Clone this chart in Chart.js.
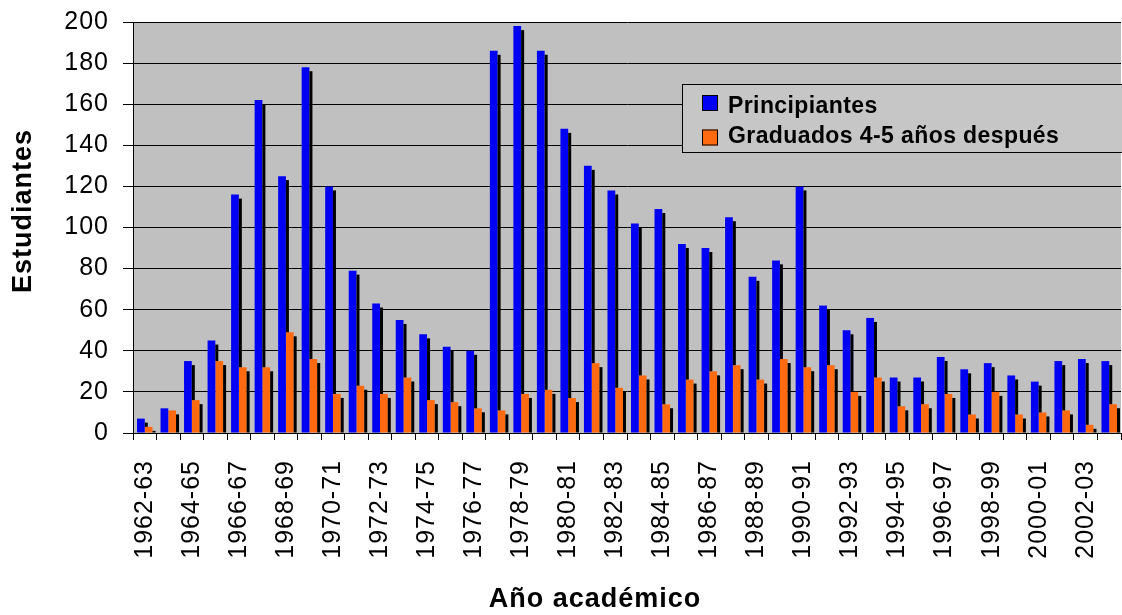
<!DOCTYPE html>
<html lang="es">
<head>
<meta charset="utf-8">
<title>Principiantes y graduados por año académico</title>
<script src="https://cdn.jsdelivr.net/npm/chart.js@4.4.1/dist/chart.umd.min.js"></script>
<style>
  html, body { margin: 0; padding: 0; background: #ffffff; }
  canvas { display: block; }
</style>
</head>
<body>
<canvas id="grafico" width="1122" height="615"></canvas>
<script>
// Años académicos (eje X)
const cursos = [
  '1962-63', '1963-64', '1964-65', '1965-66', '1966-67', '1967-68', '1968-69',
  '1969-70', '1970-71', '1971-72', '1972-73', '1973-74', '1974-75', '1975-76',
  '1976-77', '1977-78', '1978-79', '1979-80', '1980-81', '1981-82', '1982-83',
  '1983-84', '1984-85', '1985-86', '1986-87', '1987-88', '1988-89', '1989-90',
  '1990-91', '1991-92', '1992-93', '1993-94', '1994-95', '1995-96', '1996-97',
  '1997-98', '1998-99', '1999-00', '2000-01', '2001-02', '2002-03', '2003-04'
];

// Alumnos que empiezan la carrera cada año
const principiantes = [
  7, 12, 35, 45, 116, 162, 125, 178, 120, 79, 63, 55, 48, 42,
  40, 186, 198, 186, 148, 130, 118, 102, 109, 92, 90, 105, 76, 84,
  120, 62, 50, 56, 27, 27, 37, 31, 34, 28, 25, 35, 36, 35
];

// Alumnos de esa promoción que terminan 4-5 años después
const graduados = [
  3, 11, 16, 35, 32, 32, 49, 36, 19, 23, 19, 27, 16, 15,
  12, 11, 19, 21, 17, 34, 22, 28, 14, 26, 30, 33, 26, 36,
  32, 33, 20, 27, 13, 14, 19, 9, 20, 9, 10, 11, 4, 14
];

const seriesNombres = ['Principiantes', 'Graduados 4-5 años después'];
const seriesColores = ['#0000f2', '#ff6a10'];

// Eje Y: 0 a 200 de 20 en 20
const yMin = 0;
const yMax = 200;
const yPaso = 20;

const tituloX = 'Año académico';
const tituloY = 'Estudiantes';

const FUENTE = "'Liberation Sans', Arial, Helvetica, sans-serif";
const ESPACIADO = '1px';
const FONDO_PLOT = '#c0c0c0';

// Espaciado entre letras para el texto de los ejes
const espaciado = {
  id: 'espaciado',
  beforeUpdate(chart) { chart.ctx.letterSpacing = ESPACIADO; },
  beforeLayout(chart) { chart.ctx.letterSpacing = ESPACIADO; },
  beforeDraw(chart) { chart.ctx.letterSpacing = ESPACIADO; }
};

// Fondo gris del área de trazado
const fondoPlot = {
  id: 'fondoPlot',
  beforeDraw(chart) {
    const { ctx, chartArea: a } = chart;
    ctx.save();
    ctx.fillStyle = FONDO_PLOT;
    ctx.fillRect(a.left, a.top, a.right - a.left, a.bottom - a.top);
    ctx.restore();
  }
};

// Cara lateral oscura de cada columna (efecto 3D)
const profundidad = {
  id: 'profundidad',
  afterDatasetsDraw(chart, args, opts) {
    const ctx = chart.ctx;
    const metaA = chart.getDatasetMeta(0);
    const metaB = chart.getDatasetMeta(1);
    const dy = opts.desplazamiento;
    const w = opts.ancho;
    ctx.save();
    ctx.fillStyle = opts.color;
    metaA.data.forEach((barra, i) => {
      const p = barra.getProps(['x', 'y', 'base', 'width'], true);
      const vecina = metaB.data[i].getProps(['y'], true);
      const arriba = p.y + dy;
      const abajo = Math.min(p.base, vecina.y);
      if (abajo > arriba) ctx.fillRect(p.x + p.width / 2, arriba, w, abajo - arriba);
    });
    metaB.data.forEach((barra) => {
      const p = barra.getProps(['x', 'y', 'base', 'width'], true);
      const arriba = p.y + dy;
      if (p.base > arriba) ctx.fillRect(p.x + p.width / 2, arriba, w, p.base - arriba);
    });
    ctx.restore();
  }
};

// Leyenda en recuadro dentro del área de trazado
const leyenda = {
  id: 'leyendaRecuadro',
  afterDraw(chart, args, o) {
    const ctx = chart.ctx;
    ctx.save();
    ctx.letterSpacing = o.espaciado;
    ctx.fillStyle = o.fondo;
    ctx.fillRect(o.x, o.y, o.ancho, o.alto);
    ctx.strokeStyle = '#000';
    ctx.lineWidth = 1;
    ctx.strokeRect(o.x + 0.5, o.y + 0.5, o.ancho, o.alto);
    ctx.font = 'bold ' + o.tamano + 'px ' + FUENTE;
    ctx.textAlign = 'left';
    ctx.textBaseline = 'alphabetic';
    chart.data.datasets.forEach((ds, i) => {
      const cy = o.marcaY[i];
      ctx.fillStyle = ds.backgroundColor;
      ctx.fillRect(o.marcaX, cy - o.marca / 2, o.marca, o.marca);
      ctx.strokeStyle = '#000';
      ctx.strokeRect(o.marcaX + 0.5, cy - o.marca / 2 + 0.5, o.marca - 1, o.marca - 1);
      ctx.fillStyle = '#000';
      ctx.fillText(ds.label, o.textoX, o.baseY[i]);
    });
    ctx.restore();
  }
};

// Títulos de los ejes
const titulosEjes = {
  id: 'titulosEjes',
  afterDraw(chart, args, o) {
    const ctx = chart.ctx;
    ctx.save();
    ctx.letterSpacing = o.espaciado;
    ctx.fillStyle = '#000';
    ctx.font = 'bold ' + o.tamano + 'px ' + FUENTE;
    ctx.textAlign = 'center';
    ctx.textBaseline = 'middle';
    ctx.fillText(tituloX, o.xCentro[0], o.xCentro[1]);
    ctx.translate(o.yCentro[0], o.yCentro[1]);
    ctx.rotate(-Math.PI / 2);
    ctx.fillText(tituloY, 0, 0);
    ctx.restore();
  }
};

new Chart(document.getElementById('grafico'), {
  type: 'bar',
  data: {
    labels: cursos,
    datasets: [
      {
        label: seriesNombres[0],
        data: principiantes,
        backgroundColor: seriesColores[0],
        borderWidth: 0,
        categoryPercentage: 0.66,
        barPercentage: 1.0
      },
      {
        label: seriesNombres[1],
        data: graduados,
        backgroundColor: seriesColores[1],
        borderWidth: 0,
        categoryPercentage: 0.66,
        barPercentage: 1.0
      }
    ]
  },
  options: {
    responsive: false,
    animation: false,
    events: [],
    layout: { padding: { top: 22, right: 1, bottom: 0, left: 0 } },
    scales: {
      x: {
        offset: true,
        grid: {
          display: true,
          offset: true,
          drawOnChartArea: false,
          drawTicks: true,
          tickLength: 7,
          color: '#000'
        },
        border: { display: true, color: '#000', width: 1, z: 1 },
        ticks: {
          autoSkip: false,
          minRotation: 90,
          maxRotation: 90,
          padding: 20,
          color: '#000',
          font: { family: FUENTE, size: 25 },
          callback(valor, i) { return i % 2 === 0 ? cursos[i] : ''; }
        },
        afterFit(escala) {
          escala.height = 182;
          escala.paddingLeft = 0;
          escala.paddingRight = 0;
        }
      },
      y: {
        min: yMin,
        max: yMax,
        ticks: {
          stepSize: yPaso,
          padding: 14,
          color: '#000',
          font: { family: FUENTE, size: 25 }
        },
        grid: { color: '#000', lineWidth: 1, tickLength: 10, drawTicks: true },
        border: { display: true, color: '#000', width: 1 },
        afterFit(escala) {
          escala.width = 133;
          escala.paddingTop = 0;
          escala.paddingBottom = 0;
        }
      }
    },
    plugins: {
      legend: { display: false },
      tooltip: { enabled: false },
      profundidad: { color: '#000000', desplazamiento: 4, ancho: 3 },
      leyendaRecuadro: {
        x: 682, y: 84, ancho: 450, alto: 68,
        fondo: '#c6c6c6',
        tamano: 23,
        espaciado: '0.4px',
        marca: 16, marcaX: 702,
        marcaY: [103, 137.5],
        textoX: 728,
        baseY: [113, 143]
      },
      titulosEjes: { tamano: 27, espaciado: '1px', xCentro: [595, 600], yCentro: [24, 211] }
    }
  },
  plugins: [espaciado, fondoPlot, profundidad, leyenda, titulosEjes]
});
</script>
</body>
</html>
